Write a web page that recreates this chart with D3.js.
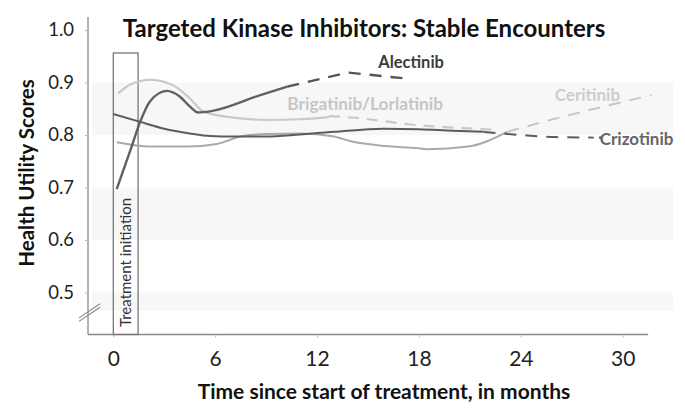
<!DOCTYPE html>
<html><head><meta charset="utf-8">
<script src="https://cdn.jsdelivr.net/npm/d3@7"></script>
<style>body{margin:0;background:#fff}svg{display:block}text{font-family:Lato,"Open Sans",sans-serif}</style>
</head><body><svg id="c" width="685" height="415"></svg>
<script>
// ---- data ----
const xTicks = [0, 6, 12, 18, 24, 30];
const yTicks = [0.5, 0.6, 0.7, 0.8, 0.9, 1.0];
const bands = [[0.8, 0.9], [0.6, 0.7], [0.465, 0.5]];

const alectinibSolidX = [0.2, 1.08, 1.58, 2.16, 3.15, 3.93, 4.52, 5.0, 5.7, 8.66, 10.25];
const alectinibSolidY = [0.697, 0.778, 0.825, 0.864, 0.884, 0.873, 0.854, 0.843, 0.845, 0.876, 0.892];
const alectinibDashX = [10.25, 13.8, 17.4];
const alectinibDashY = [0.892, 0.919, 0.907];

const brigatinibSolidX = [0.28, 1.0, 2.17, 3.5, 4.5, 5.3, 7.1, 9.0, 11, 12.7];
const brigatinibSolidY = [0.879, 0.896, 0.905, 0.895, 0.87, 0.845, 0.833, 0.829, 0.83, 0.834];
const brigatinibDashX = [12.7, 14.5, 16, 17.5, 19.5, 22.5];
const brigatinibDashY = [0.836, 0.832, 0.826, 0.82, 0.815, 0.81];

const crizotinibSolidX = [0, 1.58, 3, 4.5, 5.7, 7, 9, 11, 13, 15.9, 18, 20, 21.8];
const crizotinibSolidY = [0.84, 0.825, 0.812, 0.803, 0.798, 0.797, 0.797, 0.801, 0.806, 0.812, 0.811, 0.808, 0.806];
const crizotinibDashX = [21.8, 24, 26, 28.3];
const crizotinibDashY = [0.806, 0.8, 0.796, 0.795];
const crizotinibDotX = [28.7];
const crizotinibDotY = [0.795];

const ceritinibSolidX = [0.2, 2.17, 4.3, 6.1, 7.5, 9.05, 11, 13, 14, 16, 17.9, 18.5, 20.9, 23.2];
const ceritinibSolidY = [0.786, 0.778, 0.778, 0.783, 0.797, 0.802, 0.803, 0.797, 0.788, 0.779, 0.775, 0.773, 0.778, 0.806];
const ceritinibDashX = [23.2, 25.2, 28.1, 31.7];
const ceritinibDashY = [0.806, 0.824, 0.848, 0.876];

const seriesLabels = ["Alectinib", "Brigatinib/Lorlatinib", "Ceritinib", "Crizotinib"];
const labelAnchorX = [15.6, 10.25, 26.0, 28.65];
const labelAnchorY = [0.927, 0.848, 0.864, 0.781];

// ---- chart ----
const svg = d3.select("#c");
const x = d3.scaleLinear().domain([0, 30]).range([113.3, 622.7]);
const y = d3.scaleLinear().domain([0.42, 1.0]).range([334.5, 30]);

// bands
svg.selectAll("rect.band").data(bands).join("rect")
  .attr("x", 92).attr("width", 581)
  .attr("y", d => y(d[1])).attr("height", d => y(d[0]) - y(d[1]))
  .attr("fill", "#f7f7f7");

// axes
const axisColor = "#8a8a8a";
svg.append("line").attr("x1", 88).attr("x2", 88).attr("y1", y(1.025)).attr("y2", y(0.42))
  .attr("stroke", axisColor).attr("stroke-width", 1.3);
svg.append("line").attr("x1", 88).attr("x2", x(31.5)).attr("y1", y(0.42)).attr("y2", y(0.42))
  .attr("stroke", axisColor).attr("stroke-width", 1.3);

const xAxis = svg.append("g").attr("transform", `translate(0,${y(0.42)})`)
  .call(d3.axisBottom(x).tickValues(xTicks).tickSize(3).tickPadding(14).tickFormat(d3.format("d")));
xAxis.select(".domain").remove();
xAxis.selectAll("line").attr("stroke", "#bbb");
xAxis.selectAll("text").attr("font-size", 21).attr("fill", "#222").attr("font-family", "Lato");

const yAxis = svg.append("g").attr("transform", `translate(88,0)`)
  .call(d3.axisLeft(y).tickValues(yTicks).tickSize(3).tickPadding(11).tickFormat(d3.format(".1f")));
yAxis.select(".domain").remove();
yAxis.selectAll("line").attr("stroke", "#bbb");
yAxis.selectAll("text").attr("font-size", 18.5).attr("fill", "#222").attr("font-family", "Lato");

// axis break
[0, 3.5].forEach(o => {
  svg.append("line").attr("x1", 79).attr("y1", y(0.445) - o).attr("x2", 100).attr("y2", y(0.472) - o)
    .attr("stroke", "#888").attr("stroke-width", 1.2);
});

// treatment initiation box
svg.append("rect").attr("x", x(0)).attr("y", 53).attr("width", x(1.46) - x(0)).attr("height", y(0.42) - 53)
  .attr("fill", "none").attr("stroke", "#777").attr("stroke-width", 1.3);
svg.append("text").attr("transform", `translate(${x(0.77) + 5},327) rotate(-90)`)
  .attr("font-size", 15).attr("fill", "#333").text("Treatment initiation");

// lines
const line = d3.line().x(d => x(d[0])).y(d => y(d[1]));
function draw(xs, ys, color, width, dash, curve) {
  svg.append("path").datum(xs.map((v, i) => [v, ys[i]]))
    .attr("d", line.curve(curve)).attr("fill", "none")
    .attr("stroke", color).attr("stroke-width", width)
    .attr("stroke-dasharray", dash).attr("stroke-linecap", "butt");
}
draw(ceritinibSolidX, ceritinibSolidY, "#a9a9a9", 2, null, d3.curveMonotoneX);
draw(ceritinibDashX, ceritinibDashY, "#c6c6c6", 2, "12,9", d3.curveMonotoneX);
draw(brigatinibSolidX, brigatinibSolidY, "#c9c9c9", 2.2, null, d3.curveMonotoneX);
draw(brigatinibDashX, brigatinibDashY, "#c9c9c9", 2.2, "11,8", d3.curveMonotoneX);
draw(crizotinibSolidX, crizotinibSolidY, "#5c5c5c", 2, null, d3.curveMonotoneX);
draw(crizotinibDashX, crizotinibDashY, "#5c5c5c", 2, "12,9", d3.curveMonotoneX);
svg.selectAll("rect.dot").data(crizotinibDotX).join("rect")
  .attr("x", d => x(d) - 1.5).attr("y", (d, i) => y(crizotinibDotY[i]) - 1.2).attr("width", 3).attr("height", 2.4)
  .attr("fill", "#5c5c5c");
draw(alectinibSolidX, alectinibSolidY, "#606060", 2.4, null, d3.curveMonotoneX);
draw(alectinibDashX, alectinibDashY, "#555", 2.4, "12,9", d3.curveLinear);

// series labels
const labelColors = ["#3c3c3c", "#c6c6c6", "#cccccc", "#666666"];
const labelSizes = [16.5, 17.3, 17, 17];
seriesLabels.forEach((t, i) => {
  svg.append("text").attr("x", x(labelAnchorX[i])).attr("y", y(labelAnchorY[i]))
    .attr("font-size", labelSizes[i]).attr("font-weight", "bold").attr("fill", labelColors[i]).text(t);
});

// titles
svg.append("text").attr("x", 364).attr("y", 37).attr("text-anchor", "middle")
  .attr("font-size", 24).attr("font-weight", "bold").attr("fill", "#111")
  .text("Targeted Kinase Inhibitors: Stable Encounters");
svg.append("text").attr("x", 384).attr("y", 399).attr("text-anchor", "middle")
  .attr("font-size", 21).attr("font-weight", "bold").attr("fill", "#111")
  .text("Time since start of treatment, in months");
svg.append("text").attr("transform", "translate(34,173) rotate(-90)").attr("text-anchor", "middle")
  .attr("font-size", 20.5).attr("font-weight", "bold").attr("fill", "#111")
  .text("Health Utility Scores");
</script></body></html>
